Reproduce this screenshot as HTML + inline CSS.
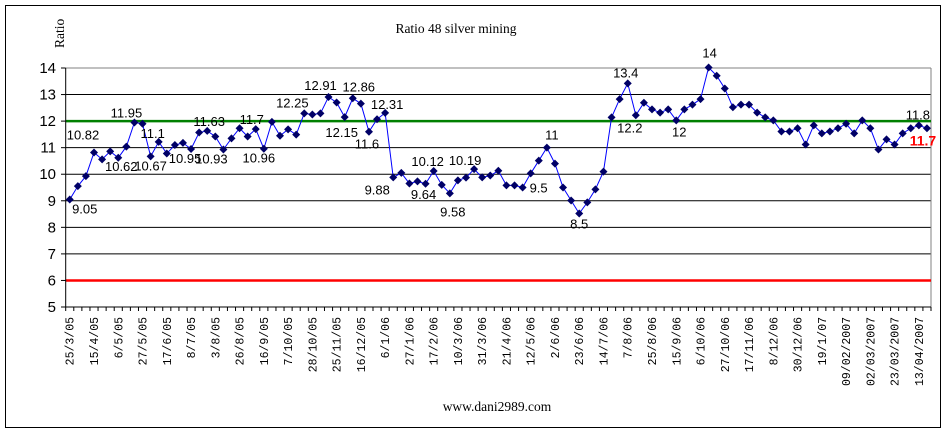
<!DOCTYPE html>
<html><head><meta charset="utf-8"><style>
html,body{margin:0;padding:0;background:#fff;}
svg{display:block;}
</style></head><body>
<svg width="946" height="434" viewBox="0 0 946 434" xmlns="http://www.w3.org/2000/svg" id="chart">
<rect x="5.5" y="5.5" width="935" height="422" fill="#fff" stroke="#000" stroke-width="1"/>
<text x="456" y="33" font-family="Liberation Serif, serif" font-size="13.5" text-anchor="middle">Ratio 48 silver mining</text>
<text transform="translate(64,48) rotate(-90)" font-family="Liberation Serif, serif" font-size="13.5">Ratio</text>
<text x="497" y="411" font-family="Liberation Serif, serif" font-size="13.5" text-anchor="middle">www.dani2989.com</text>
<g id="grid"></g><g id="axes"></g><g id="series"></g><g id="labels"></g>
</svg>
<script>
const categories = ["25/3/05","15/4/05","6/5/05","27/5/05","17/6/05","8/7/05","3/8/05","26/8/05","16/9/05","7/10/05","28/10/05","25/11/05","16/12/05","6/1/06","27/1/06","17/2/06","10/3/06","31/3/06","21/4/06","12/5/06","2/6/06","23/6/06","14/7/06","7/8/06","25/8/06","15/9/06","6/10/06","27/10/06","17/11/06","8/12/06","30/12/06","19/1/07","09/02/2007","02/03/2007","23/03/2007","13/04/2007"];
const values = [9.05,9.55,9.93,10.82,10.56,10.86,10.62,11.04,11.95,11.9,10.67,11.22,10.78,11.1,11.18,10.95,11.57,11.63,11.42,10.93,11.35,11.73,11.42,11.7,10.96,11.97,11.45,11.69,11.49,12.29,12.25,12.29,12.91,12.7,12.15,12.86,12.66,11.6,12.07,12.31,9.88,10.05,9.65,9.73,9.64,10.12,9.6,9.28,9.77,9.87,10.19,9.88,9.95,10.13,9.58,9.58,9.5,10.03,10.51,11.0,10.4,9.5,9.01,8.52,8.94,9.43,10.1,12.14,12.83,13.42,12.22,12.69,12.44,12.32,12.44,12.03,12.44,12.62,12.83,14.02,13.71,13.23,12.52,12.62,12.62,12.32,12.14,12.03,11.61,11.61,11.73,11.12,11.84,11.54,11.61,11.73,11.9,11.54,12.03,11.73,10.93,11.31,11.12,11.54,11.73,11.84,11.73];
const yTicks = [5,6,7,8,9,10,11,12,13,14];
const labelIdx = [0,3,6,8,10,11,15,17,19,23,24,30,32,34,35,37,39,40,44,45,47,50,56,59,63,69,70,75,79,105,106];
const labelText = ["9.05","10.82","10.62","11.95","10.67","11.1","10.95","11.63","10.93","11.7","10.96","12.25","12.91","12.15","12.86","11.6","12.31","9.88","9.64","10.12","9.58","10.19","9.5","11","8.5","13.4","12.2","12","14","11.8","11.7"];
const labelOffsets = [[15,9],[-11,-18],[3,8],[-8,-10],[0,9],[-6,-9],[-6,9],[2,-10],[-12,9],[-4,-10],[-5,9],[-20,-12],[-8,-12],[-3,15],[6,-12],[-2,12],[2,-9],[-16,12],[-2,10],[-6,-10],[3,18],[-9,-9],[16,0],[5,-13],[0,10],[-2,11*-1],[-6,12],[3,11],[1,-15],[-1,-11],[-4,12]];
const redLine = 6, greenLine = 12;

const NS="http://www.w3.org/2000/svg";
const L=65.7,R=931,T=68,B=307,yMin=5,yMax=14,n=values.length;
const cw=(R-L)/n;
const xS=i=>L+(i+0.5)*cw;
const yS=v=>B-(v-yMin)/(yMax-yMin)*(B-T);
function mk(tag,attrs,parent){const e=document.createElementNS(NS,tag);for(const k in attrs)e.setAttribute(k,attrs[k]);document.getElementById(parent).appendChild(e);return e;}

yTicks.forEach(v=>{
  if(v>yMin){
    const g=mk('line',{x1:L,x2:R,y1:yS(v),y2:yS(v),stroke:v===yMax?'#808080':'#000','stroke-width':1},'grid');
    
    
  }
  const t=mk('text',{x:56,y:yS(v)+5,'text-anchor':'end','font-family':'Liberation Sans, sans-serif','font-size':15},'axes');
  t.textContent=v;
  
  
  const tk=mk('line',{x1:61,x2:L,y1:yS(v),y2:yS(v),stroke:'#000'},'axes');
  
  
});
const rb=mk('line',{x1:R,x2:R,y1:T,y2:B,stroke:'#808080'},'grid');


const gl=mk('line',{x1:L,x2:R,y1:yS(greenLine),y2:yS(greenLine),stroke:'#008000','stroke-width':2.5},'grid');


const rl=mk('line',{x1:L,x2:R,y1:yS(redLine),y2:yS(redLine),stroke:'#ff0000','stroke-width':2.5},'grid');


const ya=mk('line',{x1:L,x2:L,y1:T,y2:B,stroke:'#000'},'axes');


const xa=mk('line',{x1:L,x2:R,y1:B,y2:B,stroke:'#000'},'axes');


for(let i=0;i<=n;i++){
  const tk=mk('line',{x1:L+i*cw,x2:L+i*cw,y1:B,y2:B+4,stroke:'#000'},'axes');
  
  
}
categories.forEach((c,k)=>{
  const x=xS(k*3);
  const t=mk('text',{transform:`translate(${x+4},${B+10}) rotate(-90)`,'text-anchor':'end','font-family':'Liberation Mono, monospace','font-size':11.5},'axes');
  t.textContent=c;
  
  
});
const pl=mk('polyline',{points:values.map((v,i)=>xS(i)+','+yS(v)).join(' '),fill:'none',stroke:'#0000ff','stroke-width':1},'series');


values.forEach((v,i)=>{
  const x=xS(i),y=yS(v);
  const m=mk('polygon',{points:`${x},${y-4} ${x+4},${y} ${x},${y+4} ${x-4},${y}`,fill:'#000066'},'series');
  
  
});
labelIdx.forEach((idx,j)=>{
  const o=labelOffsets[j];
  const last=j===labelIdx.length-1;
  const t=mk('text',{x:xS(idx)+o[0],y:yS(values[idx])+o[1]+5,'text-anchor':'middle','font-family':'Liberation Sans, sans-serif','font-size':last?14:13,fill:last?'#ff0000':'#000','font-weight':last?'bold':'normal'},'labels');
  t.textContent=labelText[j];
  
  
});
</script>
</body></html>
